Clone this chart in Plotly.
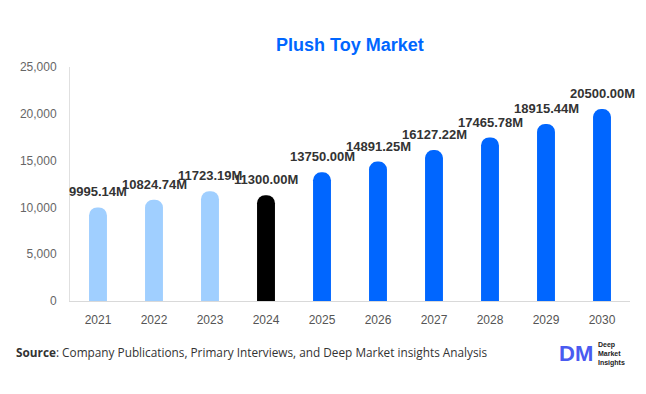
import plotly.graph_objects as go

years = ["2021", "2022", "2023", "2024", "2025", "2026", "2027", "2028", "2029", "2030"]
values = [9995.14, 10824.74, 11723.19, 11300.00, 13750.00, 14891.25, 16127.22, 17465.78, 18915.44, 20500.00]
colors = ["#A0CFFF"] * 3 + ["#000000"] + ["#0066FF"] * 6
labels = [f"{v:.2f}M" for v in values]
y_ticks = [0, 5000, 10000, 15000, 20000, 25000]

fig = go.Figure()
fig.add_trace(go.Bar(x=years, y=values, marker=dict(color=colors, line=dict(width=0)),
                     width=0.32, hoverinfo="skip"))

for i, (v, t) in enumerate(zip(values, labels)):
    fig.add_annotation(x=i, y=v, text=t, showarrow=False, yanchor="bottom", yshift=6,
                       font=dict(family="Liberation Sans, Arial", size=13, color="#333333", weight="bold"))

fig.add_annotation(xref="paper", yref="paper", x=0.5, y=1, xanchor="center", yanchor="bottom", yshift=10,
                   text="<b>Plush Toy Market</b>", showarrow=False,
                   font=dict(family="Liberation Sans, Arial", size=18, color="#0066FF"))

fig.add_annotation(xref="paper", yref="paper", x=-0.1, y=-0.22, xanchor="left", yanchor="middle",
                   text="<b>Source</b>: Company Publications, Primary Interviews, and Deep Market insights Analysis",
                   showarrow=False, font=dict(family="Open Sans, Roboto", size=11.8, color="#333333"))

fig.add_annotation(xref="paper", yref="paper", x=0.904, y=-0.225, xanchor="center", yanchor="middle",
                   text="<b>DM</b>", showarrow=False,
                   font=dict(family="Liberation Sans, Arial", size=22, color="#4A5BF0"))
fig.add_annotation(xref="paper", yref="paper", x=0.94, y=-0.225, xanchor="left", yanchor="middle",
                   text="<b>Deep<br>Market<br>Insights</b>", showarrow=False, align="left",
                   font=dict(family="Liberation Sans, Arial", size=7, color="#222222"))

fig.update_layout(
    width=646, height=394,
    margin=dict(l=59, r=24, t=59, b=101),
    paper_bgcolor="white", plot_bgcolor="white",
    barcornerradius=9,
    showlegend=False,
    font=dict(family="Liberation Sans, Arial", size=12, color="#666666"),
    xaxis=dict(type="category", range=[-0.5, len(years) - 0.5], showline=True, linecolor="#D9D9D9",
               linewidth=1, showgrid=False, ticks="", ticklabelstandoff=8,
               tickfont=dict(size=12, color="#555555")),
    yaxis=dict(range=[0, 25000], tickvals=y_ticks, tickformat=",", showline=True, linecolor="#E0E0E0",
               linewidth=1, showgrid=False, zeroline=False, ticks="", ticklabelstandoff=10,
               tickfont=dict(size=12, color="#666666")),
)

fig.write_html("out.html")
